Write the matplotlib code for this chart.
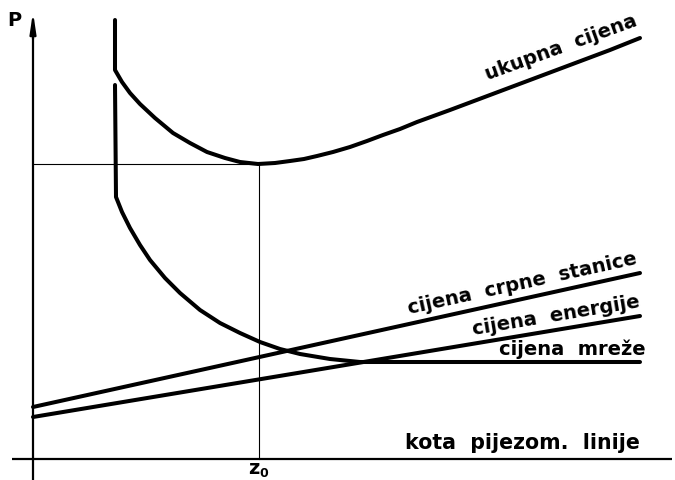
import matplotlib
matplotlib.use("Agg")
import matplotlib.pyplot as plt

# ---- data (arbitrary units, origin at axes crossing) ----
ukupna_x = [82, 82, 89, 97, 107, 122, 140, 157, 174, 192, 207, 225, 242, 257, 271,
            284, 300, 317, 334, 350, 367, 384, 417, 457, 497, 537, 577, 607]
ukupna_y = [439, 389, 377, 366, 355, 341, 326, 316, 307, 301, 297, 295, 296, 298, 300,
            303, 307, 312, 318, 324, 330, 337, 349, 364, 379, 394, 409, 421]

mreza_x = [82, 83, 89, 97, 107, 117, 132, 147, 167, 187, 207, 227, 247, 267, 297, 327, 607]
mreza_y = [374, 262, 247, 231, 214, 199, 181, 166, 149, 136, 126, 117, 110, 105, 100, 97, 97]

crpne_x = [0, 607]
crpne_y = [52, 186]

energija_x = [0, 607]
energija_y = [42, 143]

z0 = 226
p_min = 295

labels = {
    "ukupna": "ukupna  cijena",
    "crpne": "cijena  crpne  stanice",
    "energija": "cijena  energije",
    "mreza": "cijena  mreže",
    "xaxis": "kota  pijezom.  linije",
    "yaxis": "P",
}

fig = plt.figure(figsize=(6.75, 4.8), dpi=100)
ax = fig.add_axes([0, 0, 1, 1])
ax.set_xlim(-33, 642)
ax.set_ylim(-21, 459)
ax.axis("off")

font = dict(family=["DejaVu Sans"], weight="bold", fontsize=14, color="black")

# axes
ax.plot([-21, 639], [0, 0], color="black", lw=1.6, solid_capstyle="butt")
ax.plot([0, 0], [-21, 430], color="black", lw=1.6, solid_capstyle="butt")
ax.annotate("", xy=(0, 447), xytext=(0, 420),
            arrowprops=dict(arrowstyle="-|>,head_length=1.2,head_width=0.18",
                            color="black", lw=1.6, shrinkA=0, shrinkB=0))

# helper lines at optimum
ax.plot([0, z0], [p_min, p_min], color="black", lw=0.8)
ax.plot([z0, z0], [0, p_min], color="black", lw=0.8)

# curves
lw = 2.9
ax.plot(ukupna_x, ukupna_y, color="black", lw=lw, solid_joinstyle="round", solid_capstyle="round")
ax.plot(mreza_x, mreza_y, color="black", lw=lw, solid_joinstyle="round", solid_capstyle="round")
ax.plot(crpne_x, crpne_y, color="black", lw=lw, solid_capstyle="round")
ax.plot(energija_x, energija_y, color="black", lw=lw, solid_capstyle="round")

# labels
ax.text(530, 406, labels["ukupna"], rotation=20, ha="center", va="baseline",
        rotation_mode="anchor", **font)
ax.text(490, 170, labels["crpne"], rotation=12.4, ha="center", va="baseline",
        rotation_mode="anchor", **font)
ax.text(524, 138, labels["energija"], rotation=9.5, ha="center", va="baseline",
        rotation_mode="anchor", **font)
ax.text(539, 104, labels["mreza"], ha="center", va="baseline", **font)
ax.text(489, 10, labels["xaxis"], ha="center", va="baseline", fontsize=14.8,
        family=["DejaVu Sans"], weight="bold", color="black")
ax.text(-19, 439, labels["yaxis"], ha="center", va="center", **font)
ax.text(z0, -15, "z", ha="right", va="baseline", **font)
ax.text(z0, -18, "0", ha="left", va="baseline",
        family=["DejaVu Sans"], weight="bold", fontsize=9)

fig.savefig("out.png", dpi=100)
